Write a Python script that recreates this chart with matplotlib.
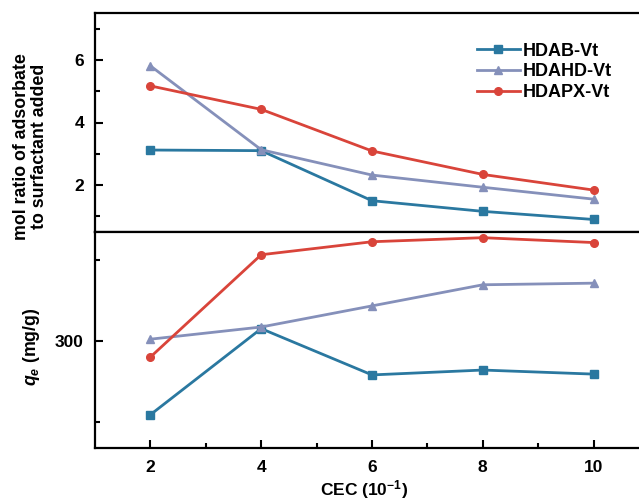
import matplotlib
matplotlib.use('Agg')
import matplotlib.pyplot as plt
from matplotlib.ticker import FixedLocator

plt.rcParams['font.family'] = ['Liberation Sans', 'DejaVu Sans']
plt.rcParams['font.weight'] = 'bold'
plt.rcParams['mathtext.fontset'] = 'custom'
plt.rcParams['mathtext.it'] = 'Liberation Sans:italic:bold'
plt.rcParams['mathtext.rm'] = 'Liberation Sans:bold'

cec = [2, 4, 6, 8, 10]
names = ['HDAB-Vt', 'HDAHD-Vt', 'HDAPX-Vt']
colors = ['#2a78a0', '#8590ba', '#d9443a']
markers = ['s', '^', 'o']

# top panel: mol ratio of adsorbate to surfactant added
ratio_hdab = [3.12, 3.1, 1.5, 1.16, 0.9]
ratio_hdahd = [5.81, 3.13, 2.32, 1.93, 1.55]
ratio_hdapx = [5.17, 4.42, 3.09, 2.34, 1.84]

# bottom panel: qe (mg/g)
qe_hdab = [209, 315, 258, 264, 259]
qe_hdahd = [302, 317, 343, 369, 371]
qe_hdapx = [280, 406, 422, 427, 421]

fig = plt.figure(figsize=(6.39, 5.01), dpi=100)
w = (649 - 95) / 639
ax1 = fig.add_axes([95 / 639, 1 - 232 / 501, w, (232 - 13) / 501])
ax2 = fig.add_axes([95 / 639, 1 - 448 / 501, w, (448 - 232) / 501])

for ys, name, c, m in zip([ratio_hdab, ratio_hdahd, ratio_hdapx], names, colors, markers):
    ax1.plot(cec, ys, color=c, marker=m, lw=2.0, ms=5.5, label=name)
for ys, c, m in zip([qe_hdab, qe_hdahd, qe_hdapx], colors, markers):
    ax2.plot(cec, ys, color=c, marker=m, lw=2.0, ms=5.5)

for ax in (ax1, ax2):
    ax.set_xlim(1, 11)
    for s in ax.spines.values():
        s.set_linewidth(1.6)
    ax.tick_params(direction='in', width=1.5, length=6, labelsize=12.5, pad=8)
    ax.tick_params(which='minor', direction='in', width=1.5, length=3.5)

ax1.set_ylim(0.5, 7.5)
ax1.yaxis.set_major_locator(FixedLocator([2, 4, 6]))
ax1.yaxis.set_minor_locator(FixedLocator([1, 3, 5, 7]))
ax1.tick_params(axis='x', which='both', bottom=False, labelbottom=False)
ax1.set_ylabel('mol ratio of adsorbate\nto surfactant added', fontsize=12.8,
               fontweight='bold', linespacing=1.05)
ax1.yaxis.set_label_coords(-0.085, 0.39)

ax2.set_ylim(168, 434)
ax2.yaxis.set_major_locator(FixedLocator([300]))
ax2.yaxis.set_minor_locator(FixedLocator([200, 400]))
ax2.xaxis.set_major_locator(FixedLocator(cec))
ax2.xaxis.set_minor_locator(FixedLocator([3, 5, 7, 9]))
ax2.tick_params(axis='x', pad=9)
ax2.set_ylabel('$q_e$ (mg/g)', fontsize=12.8, fontweight='bold')
ax2.yaxis.set_label_coords(-0.095, 0.47)
ax2.set_xlabel('CEC (10$^{-1}$)', fontsize=12.5, fontweight='bold')
ax2.xaxis.set_label_coords(0.486, -0.14)

ax1.legend(loc='upper left', bbox_to_anchor=(0.676, 0.897), frameon=False,
           fontsize=13, handlelength=2.4, handletextpad=0.15, labelspacing=0.2,
           borderaxespad=0)

fig.savefig('out.png', dpi=100)
